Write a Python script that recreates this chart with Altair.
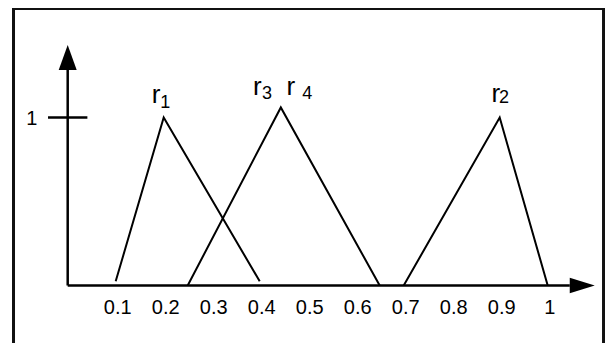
import altair as alt
import pandas as pd

# ---- data (x = value, y = membership degree) ----
series = ["r1", "r34", "r2"]
r1_x = [0.1, 0.2, 0.4]
r1_y = [0.025, 1.0, 0.025]
r34_x = [0.25, 0.444, 0.65]
r34_y = [0.0, 1.06, 0.0]
r2_x = [0.7, 0.9, 1.0]
r2_y = [0.0, 1.0, 0.0]

x_ticks = [0.1, 0.2, 0.3, 0.4, 0.5, 0.6, 0.7, 0.8, 0.9, 1.0]
x_tick_labels = ["0.1", "0.2", "0.3", "0.4", "0.5", "0.6", "0.7", "0.8", "0.9", "1"]
y_ticks = [1.0]
y_tick_labels = ["1"]

name_text = ["r", "r", "r", "r"]
name_x = [0.184, 0.395, 0.465, 0.892]
name_y = [1.085, 1.134, 1.134, 1.094]
sub_text = ["1", "3", "4", "2"]
sub_x = [0.203, 0.415, 0.499, 0.909]
sub_y = [1.055, 1.110, 1.110, 1.085]

# axis / frame extents (data units)
X_AXIS_END = 1.046
Y_AXIS_END = 1.283
X_ARROW = 1.072
Y_ARROW = 1.357
TICK_HALF = 0.041
FRAME_LEFT = -0.1129
FRAME_RIGHT = 1.1163
FRAME_TOP = 1.6488

X_DOMAIN = [-0.124375, 1.119375]
Y_DOMAIN = [-0.342262, 1.651786]
FONT = "Liberation Sans"

rows = []
for name, xs_, ys_ in zip(series, [r1_x, r34_x, r2_x], [r1_y, r34_y, r2_y]):
    for i, (a, b) in enumerate(zip(xs_, ys_)):
        rows.append({"series": name, "order": i, "x": a, "y": b})
tri = pd.DataFrame(rows)

xs = alt.Scale(domain=X_DOMAIN, nice=False, zero=False)
ys = alt.Scale(domain=Y_DOMAIN, nice=False, zero=False)

X = lambda f: alt.X(f, type="quantitative", scale=xs, axis=None)
Y = lambda f: alt.Y(f, type="quantitative", scale=ys, axis=None)

frame_df = pd.DataFrame({
    "x": [FRAME_LEFT, FRAME_LEFT, FRAME_RIGHT],
    "x2": [FRAME_LEFT, FRAME_RIGHT, FRAME_RIGHT],
    "y": [Y_DOMAIN[0], FRAME_TOP, Y_DOMAIN[0]],
    "y2": [FRAME_TOP, FRAME_TOP, FRAME_TOP],
})
frame = alt.Chart(frame_df).mark_rule(color="#111111", strokeWidth=3, strokeCap="square").encode(
    x=X("x"), x2="x2:Q", y=Y("y"), y2="y2:Q"
)

lines = alt.Chart(tri).mark_line(color="black", strokeWidth=2).encode(
    x=X("x"), y=Y("y"), detail="series:N", order="order:Q"
)

axes_df = pd.DataFrame({
    "x": [0.0, 0.0, -TICK_HALF],
    "x2": [X_AXIS_END, 0.0, TICK_HALF],
    "y": [0.0, 0.0, y_ticks[0]],
    "y2": [0.0, Y_AXIS_END, y_ticks[0]],
})
axes = alt.Chart(axes_df).mark_rule(color="black", strokeWidth=2.5).encode(
    x=X("x"), x2="x2:Q", y=Y("y"), y2="y2:Q"
)

up_arrow = alt.Chart(pd.DataFrame({"x": [0.0], "y": [Y_ARROW]})).mark_point(
    shape="M0,-1L0.72,1L-0.72,1Z", size=625, filled=True, color="black", opacity=1, strokeWidth=0
).encode(x=X("x"), y=Y("y"))

right_arrow = alt.Chart(pd.DataFrame({"x": [X_ARROW], "y": [0.0]})).mark_point(
    shape="M1,0L-1,0.62L-1,-0.62Z", size=625, filled=True, color="black", opacity=1, strokeWidth=0
).encode(x=X("x"), y=Y("y"))

xlab = alt.Chart(pd.DataFrame({"x": x_ticks, "t": x_tick_labels, "y": [0.0] * len(x_ticks)})).mark_text(
    font=FONT, fontSize=20, align="center", baseline="alphabetic", dx=2, dy=28.5, color="black"
).encode(x=X("x"), y=Y("y"), text="t:N")

ylab = alt.Chart(pd.DataFrame({"y": y_ticks, "t": y_tick_labels, "x": [0.0]})).mark_text(
    font=FONT, fontSize=20, align="right", baseline="alphabetic", dx=-30.4, dy=7, color="black"
).encode(x=X("x"), y=Y("y"), text="t:N")

names = alt.Chart(pd.DataFrame({"x": name_x, "y": name_y, "t": name_text})).mark_text(
    font=FONT, fontSize=26, align="center", baseline="alphabetic", color="black"
).encode(x=X("x"), y=Y("y"), text="t:N")

subs = alt.Chart(pd.DataFrame({"x": sub_x, "y": sub_y, "t": sub_text})).mark_text(
    font=FONT, fontSize=18, align="center", baseline="alphabetic", color="black"
).encode(x=X("x"), y=Y("y"), text="t:N")

chart = alt.layer(frame, axes, up_arrow, right_arrow, lines, xlab, ylab, names, subs).properties(
    width=597,
    height=335,
    autosize=alt.AutoSizeParams(type="none"),
    padding=0,
).configure_view(stroke=None)

chart.save("out.html", embed_options={"renderer": "svg", "actions": False})
